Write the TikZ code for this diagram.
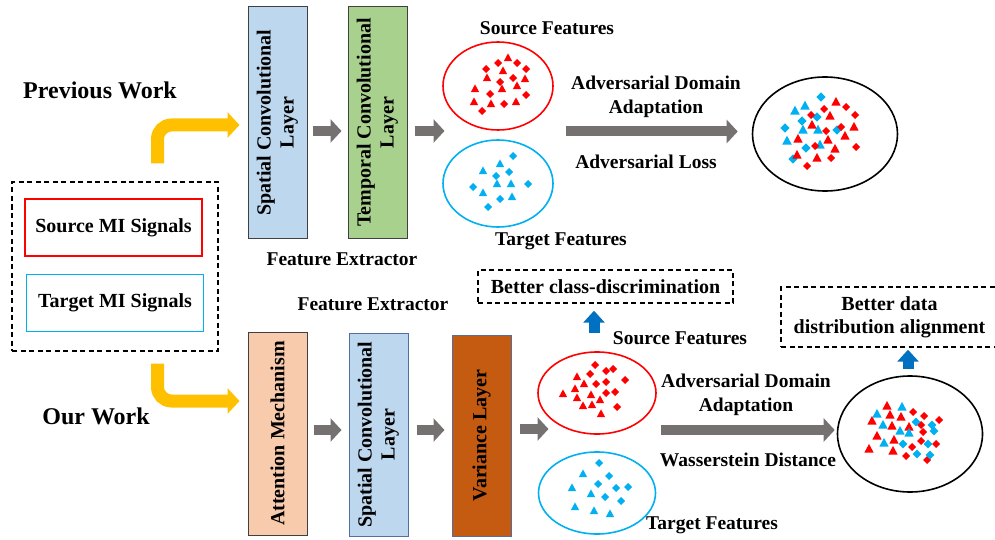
\documentclass[tikz,border=0pt]{standalone}
\usepackage{fontspec}
\setmainfont{Liberation Serif}
\usepackage{graphicx}
\usetikzlibrary{shapes.geometric, arrows.meta, positioning, calc}
\definecolor{srcRed}{RGB}{255, 0, 0}
\definecolor{tgtCyan}{RGB}{0, 176, 240}
\definecolor{flowYellow}{RGB}{255, 192, 0}
\definecolor{flowGray}{RGB}{118, 113, 113}
\definecolor{upBlue}{RGB}{0, 112, 192}
\definecolor{spatBlue}{RGB}{189, 215, 238}
\definecolor{tempGreen}{RGB}{169, 209, 142}
\definecolor{attPeach}{RGB}{248, 203, 173}
\definecolor{varBrown}{RGB}{197, 90, 17}
\definecolor{edgeBlue}{RGB}{84, 110, 165}

\begin{document}
\begin{tikzpicture}[
    x=1pt, y=-1pt,
    % Node styles
    layer/.style 2 args={
        rectangle,
        draw=#2,
        fill=#1,
        line width=1pt,
        minimum width=59pt,
        inner sep=0pt,
        font=\fontsize{20}{23}\selectfont\bfseries
    },
    sigbox/.style={
        rectangle,
        draw=#1,
        line width=1.3pt,
        minimum width=177pt,
        minimum height=57pt,
        font=\fontsize{20}{23}\selectfont\bfseries
    },
    cloud/.style={
        ellipse,
        draw=#1,
        line width=1.6pt,
        inner sep=0pt
    },
    note/.style={
        draw=black,
        dash pattern=on 5pt off 3.5pt,
        line width=1.4pt,
        align=center,
        inner sep=0pt,
        font=\fontsize{20}{23}\selectfont\bfseries
    },
    lbl/.style={
        font=\fontsize{19.5}{24}\selectfont\bfseries,
        align=center
    },
    title/.style={
        font=\fontsize{24}{28}\selectfont\bfseries
    },
    % Arrow styles
    garrow/.style={
        draw=flowGray,
        line width=10pt,
        -{Triangle[length=11pt, width=23pt]}
    },
    yarrow/.style={
        draw=flowYellow,
        line width=13pt,
        rounded corners=14pt,
        -{Triangle[length=12pt, width=25pt]}
    },
    barrow/.style={
        draw=upBlue,
        line width=11pt,
        -{Triangle[length=12pt, width=21pt]}
    },
    % Feature markers
    pics/tri/.style={code={\fill[#1] (-4.2,3.2) -- (4.2,3.2) -- (0,-4.6) -- cycle;}},
    pics/dia/.style={code={\fill[#1] (-4,0) -- (0,-4) -- (4,0) -- (0,4) -- cycle;}}
]
\useasboundingbox (0,0) rectangle (995,540);

% ============================================
% INPUTS
% ============================================
\node[draw=black, dash pattern=on 5pt off 3.5pt, line width=1.4pt,
      minimum width=206pt, minimum height=169pt] (inputs) at (115,266.5) {};
\node[sigbox=srcRed] (srcsig) at (113.5,227.5) {Source MI Signals};
\node[sigbox=tgtCyan] (tgtsig) at (115,303) {Target MI Signals};

\node[title] (prevwork) at (100,90) {Previous Work};
\node[title] (ourwork) at (96,416) {Our Work};

% ============================================
% ROW 1: PREVIOUS WORK
% ============================================
\node[layer={spatBlue}{black!75}, minimum height=231pt] (spat1) at (277.5,122.5)
    {\rotatebox{90}{\begin{tabular}{@{}c@{}}Spatial Convolutional\\Layer\end{tabular}}};
\node[layer={tempGreen}{black!75}, minimum height=231pt, right=40pt of spat1] (temp1)
    {\rotatebox{90}{\begin{tabular}{@{}c@{}}Temporal Convolutional\\Layer\end{tabular}}};
\node[lbl] (fext1) at (342,259) {Feature Extractor};

\node[cloud=srcRed, minimum width=110pt, minimum height=88pt] (redA) at (498,86) {};
\node[cloud=tgtCyan, minimum width=110pt, minimum height=87pt] (cyanA) at (498,183.5) {};
\node[cloud=black, minimum width=145pt, minimum height=114pt] (mixA) at (825,134) {};

\node[lbl] (srcfA) at (547,28) {Source Features};
\node[lbl] (tgtfA) at (561,241) {Target Features};
\node[lbl] (adaA) at (656,97) {Adversarial Domain\\Adaptation};
\node[lbl] (lossA) at (646,162) {Adversarial Loss};

% ============================================
% ROW 2: OUR WORK
% ============================================
\node[layer={attPeach}{black!75}, minimum height=203pt] (att) at (277.5,433.5)
    {\rotatebox{90}{Attention Mechanism}};
\node[layer={spatBlue}{edgeBlue}, minimum height=203pt] (spat2) at (378.5,434.5)
    {\rotatebox{90}{\begin{tabular}{@{}c@{}}Spatial Convolutional\\Layer\end{tabular}}};
\node[layer={varBrown}{edgeBlue}, minimum height=201pt] (var) at (481.5,435.5)
    {\rotatebox{90}{Variance Layer}};
\node[lbl] (fext2) at (373,304) {Feature Extractor};

\node[cloud=srcRed, minimum width=118pt, minimum height=82pt] (redB) at (597,393) {};
\node[cloud=tgtCyan, minimum width=117pt, minimum height=82pt] (cyanB) at (597,493) {};
\node[cloud=black, minimum width=145pt, minimum height=116pt] (mixB) at (910,434) {};

\node[note, minimum width=255pt, minimum height=33pt] (better1) at (605.5,286.5)
    {Better class-discrimination};
\node[note, minimum width=217pt, minimum height=60pt] (better2) at (889.5,317)
    {Better data\\distribution alignment};

\node[lbl] (srcfB) at (680,338) {Source Features};
\node[lbl] (tgtfB) at (712,525) {Target Features};
\node[lbl] (adaB) at (746,395) {Adversarial Domain\\Adaptation};
\node[lbl] (wassB) at (748,460) {Wasserstein Distance};

% ============================================
% FEATURE MARKERS
% ============================================
% Previous work
\foreach \x/\y in {498/63, 517/63, 486/69, 526/69, 500/82, 513/78, 490/94, 526/95, 504/104, 482/111}
    \pic at (\x,\y) {dia=srcRed};
\foreach \x/\y in {508/58, 503/71, 487/78, 525/79, 517/86, 502/89, 475/89, 474/102, 491/104, 516/102}
    \pic at (\x,\y) {tri=srcRed};
\foreach \x/\y in {513/156, 509/172, 496/176, 473/187, 528/184, 500/199, 488/207}
    \pic at (\x,\y) {dia=tgtCyan};
\foreach \x/\y in {500/164, 483/171, 497/184, 511/184, 483/193, 512/197}
    \pic at (\x,\y) {tri=tgtCyan};
\foreach \x/\y in {821/97, 802/121, 817/117, 785/128, 837/130, 806/148, 793/159}
    \pic[scale=1.15] at (\x,\y) {dia=tgtCyan};
\foreach \x/\y in {795/111, 805/106, 803/130, 818/130, 787/141, 820/145}
    \pic[scale=1.15] at (\x,\y) {tri=tgtCyan};
\foreach \x/\y in {811/115, 824/109, 846/107, 855/115, 826/131, 841/127, 815/146, 831/158, 856/147, 807/166}
    \pic at (\x,\y) {dia=srcRed};
\foreach \x/\y in {836/102, 830/116, 812/125, 854/127, 845/136, 798/139, 828/140, 835/149, 797/155, 817/158}
    \pic[scale=1.1] at (\x,\y) {tri=srcRed};

% Our work
\foreach \x/\y in {595/365, 606/371, 613/369, 590/374, 625/380, 596/384, 606/382, 606/393, 615/392, 617/407}
    \pic at (\x,\y) {dia=srcRed};
\foreach \x/\y in {577/377, 584/384, 575/389, 563/394, 577/398, 591/395, 600/400, 583/406, 592/405, 601/414}
    \pic at (\x,\y) {tri=srcRed};
\foreach \x/\y in {599/463, 609/476, 598/484, 616/488, 628/487, 605/497, 621/501}
    \pic at (\x,\y) {dia=tgtCyan};
\foreach \x/\y in {583/474, 572/488, 591/494, 575/507, 594/511, 610/514}
    \pic at (\x,\y) {tri=tgtCyan};
\foreach \x/\y in {887/406, 890/415, 901/417, 872/421, 892/426, 909/427, 877/436, 894/440, 869/449, 893/451}
    \pic[scale=1.1] at (\x,\y) {tri=srcRed};
\foreach \x/\y in {913/412, 924/416, 939/420, 921/425, 923/432, 921/441, 936/444, 912/447, 906/456, 927/460}
    \pic at (\x,\y) {dia=srcRed};
\foreach \x/\y in {877/414, 902/407, 883/425, 900/431, 909/433, 884/443}
    \pic[scale=1.1] at (\x,\y) {tri=tgtCyan};
\foreach \x/\y in {916/422, 932/425, 934/431, 903/444, 928/444, 917/454, 930/455}
    \pic[scale=1.1] at (\x,\y) {dia=tgtCyan};

% ============================================
% ARROWS
% ============================================
% Inputs -> feature extractors
\draw[yarrow] ([shift={(42.5,-18)}]inputs.north) |- ([shift={(-8,2.5)}]spat1.west);
\draw[yarrow] ([shift={(42.5,12)}]inputs.south) |- ([shift={(-8,-32.5)}]att.west);

% Previous work flow
\draw[garrow] ([shift={(5,8.5)}]spat1.east) -- ([shift={(-6,8.5)}]temp1.west);
\draw[garrow] ([shift={(7,8.5)}]temp1.east) -- +(30,0);
\draw[garrow] ([shift={(12,45.5)}]redA.east) -- ([shift={(-14,-2.5)}]mixA.west);

% Our work flow
\draw[garrow] ([shift={(6,-3.5)}]att.east) -- ([shift={(-7,-4.5)}]spat2.west);
\draw[garrow] ([shift={(8,-4.5)}]spat2.east) -- ([shift={(-7,-5.5)}]var.west);
\draw[garrow] ([shift={(8,-6.5)}]var.east) -- +(29,0);
\draw[garrow] ([shift={(4,37)}]redB.east) -- ([shift={(-2,-4)}]mixB.west);

% Gains
\draw[barrow] ([shift={(-3,-18)}]redB.north) -- ([shift={(-11.5,7)}]better1.south);
\draw[barrow] ([shift={(-2,-6)}]mixB.north) -- ([shift={(18.5,2)}]better2.south);

\end{tikzpicture}
\end{document}
